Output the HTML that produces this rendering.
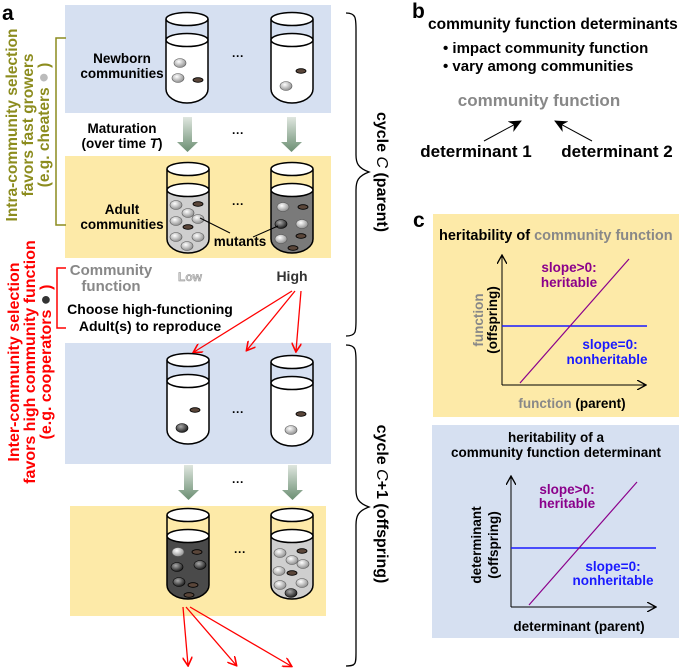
<!DOCTYPE html>
<html><head><meta charset="utf-8"><style>
html,body{margin:0;padding:0;background:#fff;}
svg{display:block;font-family:"Liberation Sans",Arial,sans-serif;font-weight:bold;}
</style></head><body>
<svg width="685" height="669" viewBox="0 0 685 669" xmlns="http://www.w3.org/2000/svg">
<defs>
<radialGradient id="wb" cx="0.4" cy="0.35" r="0.7"><stop offset="0" stop-color="#fff"/><stop offset="1" stop-color="#888"/></radialGradient>
<radialGradient id="bb" cx="0.4" cy="0.35" r="0.7"><stop offset="0" stop-color="#aaa"/><stop offset="1" stop-color="#111"/></radialGradient>
<linearGradient id="ga" x1="0" y1="0" x2="0" y2="1"><stop offset="0" stop-color="#dfe6df"/><stop offset="1" stop-color="#6b8e72"/></linearGradient>
<marker id="ar" markerWidth="10" markerHeight="10" refX="8" refY="5" orient="auto" markerUnits="userSpaceOnUse"><path d="M0,0 L9,5 L0,10" fill="none" stroke="red" stroke-width="1.6"/></marker>
<marker id="ak" markerWidth="10" markerHeight="10" refX="8" refY="5" orient="auto" markerUnits="userSpaceOnUse"><path d="M0,0 L9,5 L0,10" fill="none" stroke="#000" stroke-width="1.3"/></marker>
<marker id="ab" markerWidth="14" markerHeight="12" refX="12" refY="6" orient="auto" markerUnits="userSpaceOnUse"><path d="M0,0 L13,6 L0,12 L4,6 Z" fill="#000"/></marker>
<g id="tube"><path d="M0,0 L0,70 A21,14 0 0 0 42,70 L42,0" fill="none" stroke="#000" stroke-width="1.5"/><ellipse cx="21" cy="0" rx="21" ry="6.5" fill="#fff" stroke="#000" stroke-width="1.5"/></g>
<path id="liqW" d="M0,21 L0,70 A21,14 0 0 0 42,70 L42,21 Z" fill="#fff"/>
<path id="liqL" d="M0,21 L0,70 A21,14 0 0 0 42,70 L42,21 Z" fill="#cfcfcf"/>
<path id="liqD" d="M0,21 L0,70 A21,14 0 0 0 42,70 L42,21 Z" fill="#4a4a4a"/>
<path id="liqM" d="M0,21 L0,70 A21,14 0 0 0 42,70 L42,21 Z" fill="#7a7a7a"/>
<ellipse id="liqE" cx="21" cy="21" rx="21" ry="6.5" fill="#fff" stroke="#000" stroke-width="1.5"/>
<ellipse id="w" rx="6" ry="4.5" fill="url(#wb)" stroke="#555" stroke-width="0.6"/>
<ellipse id="k" rx="6" ry="4.5" fill="url(#bb)" stroke="#000" stroke-width="0.6"/>
<ellipse id="r" rx="5" ry="2.3" fill="#5a463a" stroke="#000" stroke-width="0.8"/>
</defs>

<rect x="65" y="5" width="266" height="108" fill="#d6e0f1"/>
<rect x="65" y="156" width="266" height="102" fill="#fdeaa8"/>
<rect x="65" y="343" width="266" height="121" fill="#d6e0f1"/>
<rect x="70" y="506" width="256" height="110" fill="#fdeaa8"/>

<text x="2" y="20" font-size="21">a</text>

<g transform="translate(166,19)"><use href="#liqW"/><use href="#tube"/><use href="#liqE"/>
<use href="#w" x="14" y="44"/><use href="#w" x="12" y="59"/><use href="#r" x="32" y="61"/></g>
<g transform="translate(271,19)"><use href="#liqW"/><use href="#tube"/><use href="#liqE"/>
<use href="#r" x="30" y="52"/><use href="#w" x="15" y="67"/></g>
<text x="122" y="63" font-size="13.5" text-anchor="middle">Newborn</text>
<text x="122" y="78" font-size="13.5" text-anchor="middle">communities</text>
<text x="238" y="60" font-size="12" text-anchor="middle">···</text>

<text x="122" y="133" font-size="13.5" text-anchor="middle">Maturation</text>
<text x="122" y="148" font-size="13.5" text-anchor="middle">(over time <tspan font-style="italic">T</tspan>)</text>
<text x="238" y="137" font-size="12" text-anchor="middle">···</text>
<path d="M183,117 h9 v25 h6 l-10.5,10 l-10.5,-10 h6 z" fill="url(#ga)"/>
<path d="M287,117 h9 v25 h6 l-10.5,10 l-10.5,-10 h6 z" fill="url(#ga)"/>

<g transform="translate(167,169)"><use href="#liqL"/><use href="#tube"/><use href="#liqE"/>
<use href="#w" x="9" y="36"/><use href="#r" x="31" y="35"/><use href="#w" x="21" y="44"/><use href="#w" x="31" y="50"/><use href="#w" x="9" y="52"/><use href="#r" x="21" y="58"/><use href="#w" x="9" y="68"/><use href="#w" x="31" y="68"/><use href="#w" x="20" y="77"/></g>
<g transform="translate(271,169)"><use href="#liqM"/><use href="#tube"/><use href="#liqE"/>
<use href="#w" x="12" y="38"/><use href="#r" x="32" y="38"/><use href="#k" x="10" y="55"/><use href="#w" x="31" y="55"/><use href="#w" x="10" y="70"/><use href="#r" x="30" y="67"/><use href="#r" x="22" y="79"/></g>
<text x="122" y="214" font-size="13.5" text-anchor="middle">Adult</text>
<text x="122" y="229" font-size="13.5" text-anchor="middle">communities</text>
<text x="238" y="208" font-size="12" text-anchor="middle">···</text>
<text x="240" y="246" font-size="13.5" text-anchor="middle">mutants</text>
<line x1="200" y1="218" x2="230" y2="233" stroke="#000" stroke-width="1"/>
<line x1="278" y1="226" x2="253" y2="237" stroke="#000" stroke-width="1"/>

<text x="111" y="275" font-size="15" fill="#888" text-anchor="middle">Community</text>
<text x="111" y="291" font-size="15" fill="#888" text-anchor="middle">function</text>
<text x="190" y="281" font-size="12" fill="#ccc" text-anchor="middle" stroke="#888" stroke-width="0.4">Low</text>
<text x="292" y="281" font-size="14" fill="#333" text-anchor="middle">High</text>
<text x="150" y="314" font-size="14" text-anchor="middle">Choose high-functioning</text>
<text x="150" y="331" font-size="14" text-anchor="middle">Adult(s) to reproduce</text>
<g stroke="red" stroke-width="1.3" fill="none">
<line x1="292" y1="291" x2="194" y2="352" marker-end="url(#ar)"/>
<line x1="295" y1="291" x2="247" y2="350" marker-end="url(#ar)"/>
<line x1="301" y1="291" x2="296" y2="351" marker-end="url(#ar)"/>
</g>

<g transform="translate(167,360)"><use href="#liqW"/><use href="#tube"/><use href="#liqE"/>
<use href="#r" x="28" y="50"/><use href="#k" x="15" y="68"/></g>
<g transform="translate(271,362)"><use href="#liqW"/><use href="#tube"/><use href="#liqE"/>
<use href="#r" x="30" y="52"/><use href="#w" x="20" y="68"/></g>
<text x="238" y="416" font-size="12" text-anchor="middle">···</text>
<text x="238" y="486" font-size="12" text-anchor="middle">···</text>
<path d="M184,465 h9 v25 h6 l-10.5,10 l-10.5,-10 h6 z" fill="url(#ga)"/>
<path d="M288,465 h9 v25 h6 l-10.5,10 l-10.5,-10 h6 z" fill="url(#ga)"/>

<g transform="translate(167,515)"><use href="#liqD"/><use href="#tube"/><use href="#liqE"/>
<use href="#w" x="11" y="37"/><use href="#r" x="30" y="37"/><use href="#k" x="10" y="52"/><use href="#k" x="33" y="50"/><use href="#k" x="12" y="67"/><use href="#r" x="26" y="70"/><use href="#r" x="22" y="80"/></g>
<g transform="translate(271,515)"><use href="#liqL"/><use href="#tube"/><use href="#liqE"/>
<use href="#w" x="9" y="38"/><use href="#r" x="31" y="36"/><use href="#w" x="21" y="45"/><use href="#w" x="32" y="49"/><use href="#w" x="8" y="56"/><use href="#r" x="21" y="58"/><use href="#w" x="9" y="70"/><use href="#w" x="31" y="68"/><use href="#k" x="20" y="78"/></g>
<text x="240" y="556" font-size="12" text-anchor="middle">···</text>
<g stroke="red" stroke-width="1.3" fill="none">
<line x1="183" y1="607" x2="188" y2="665" marker-end="url(#ar)"/>
<line x1="186" y1="607" x2="236" y2="665" marker-end="url(#ar)"/>
<line x1="190" y1="607" x2="291" y2="666" marker-end="url(#ar)"/>
</g>

<path d="M66,38 H56 V225 H66" fill="none" stroke="#8c8c1e" stroke-width="1.5"/>
<path d="M66,268 H57 V328 H66" fill="none" stroke="red" stroke-width="1.5"/>
<g transform="translate(28,125) rotate(-90)" fill="#8c8c1e" font-size="15.5" text-anchor="middle">
<text x="0" y="-11">Intra-community selection</text>
<text x="0" y="5">favors fast growers</text>
<text x="0" y="21">(e.g. cheaters <tspan fill="#bbb" font-size="18">●</tspan> )</text>
</g>
<g transform="translate(30,362) rotate(-90)" fill="red" font-size="16" text-anchor="middle">
<text x="0" y="-11">Inter-community selection</text>
<text x="0" y="5">favors high community function</text>
<text x="0" y="21">(e.g. cooperators <tspan fill="#333" font-size="18">●</tspan> )</text>
</g>

<path d="M346,13 C356,13 356,18 356,30 L356,155 C356,163 358,168 369,172 C358,176 356,181 356,190 L356,320 C356,332 356,336 346,336" fill="none" stroke="#000" stroke-width="1.3"/>
<path d="M346,345 C356,345 356,350 356,362 L356,490 C356,498 358,503 369,507 C358,511 356,516 356,525 L356,652 C356,664 356,666 346,666" fill="none" stroke="#000" stroke-width="1.3"/>
<g transform="translate(382,172) rotate(90)" font-size="16" text-anchor="middle"><text x="0" y="5">cycle <tspan font-style="italic" font-weight="normal">C</tspan> (parent)</text></g>
<g transform="translate(382,504) rotate(90)" font-size="16" text-anchor="middle"><text x="0" y="5">cycle <tspan font-style="italic" font-weight="normal">C</tspan>+1 (offspring)</text></g>

<text x="412" y="18" font-size="21">b</text>
<text x="428" y="29" font-size="15.5">community function determinants</text>
<text x="443" y="53" font-size="15">•  impact community function</text>
<text x="443" y="71" font-size="15">•  vary among communities</text>
<text x="539" y="106" font-size="17" fill="#888" text-anchor="middle">community function</text>
<line x1="484" y1="141" x2="521" y2="121" stroke="#000" stroke-width="1" marker-end="url(#ab)"/>
<line x1="592" y1="141" x2="555" y2="121" stroke="#000" stroke-width="1" marker-end="url(#ab)"/>
<text x="476" y="157" font-size="17" text-anchor="middle">determinant 1</text>
<text x="617" y="157" font-size="17" text-anchor="middle">determinant 2</text>

<text x="413" y="227" font-size="21">c</text>
<rect x="433" y="214" width="246" height="203" fill="#fdeaa8"/>
<text x="439" y="240" font-size="14.5">heritability of <tspan fill="#888">community function</tspan></text>
<line x1="502" y1="385" x2="502" y2="256" stroke="#000" stroke-width="1" marker-end="url(#ak)"/>
<line x1="502" y1="385" x2="645" y2="385" stroke="#000" stroke-width="1" marker-end="url(#ak)"/>
<line x1="502" y1="326" x2="647" y2="326" stroke="#1a1aff" stroke-width="1.6"/>
<line x1="520" y1="383" x2="629" y2="259" stroke="#8b008b" stroke-width="1.2"/>
<text x="569" y="272" font-size="13.5" fill="#8b008b" text-anchor="middle">slope&gt;0:</text>
<text x="569" y="287" font-size="13.5" fill="#8b008b" text-anchor="middle">heritable</text>
<text x="610" y="349" font-size="13.5" fill="#1a1aff" text-anchor="middle">slope=0:</text>
<text x="607" y="364" font-size="13.5" fill="#1a1aff" text-anchor="middle">nonheritable</text>
<g transform="translate(485,320) rotate(-90)" font-size="13.5" text-anchor="middle"><text x="0" y="-2" fill="#888">function</text><text x="0" y="12">(offspring)</text></g>
<text x="572" y="408" font-size="13.5" text-anchor="middle"><tspan fill="#888">function</tspan> (parent)</text>

<rect x="432" y="425" width="247" height="213" fill="#d6e0f1"/>
<text x="556" y="442" font-size="13.5" text-anchor="middle">heritability of a</text>
<text x="556" y="457" font-size="13.5" text-anchor="middle">community function determinant</text>
<line x1="511" y1="607" x2="511" y2="477" stroke="#000" stroke-width="1" marker-end="url(#ak)"/>
<line x1="511" y1="607" x2="655" y2="607" stroke="#000" stroke-width="1" marker-end="url(#ak)"/>
<line x1="511" y1="548" x2="656" y2="548" stroke="#1a1aff" stroke-width="1.6"/>
<line x1="529" y1="605" x2="637" y2="482" stroke="#8b008b" stroke-width="1.2"/>
<text x="567" y="494" font-size="13.5" fill="#8b008b" text-anchor="middle">slope&gt;0:</text>
<text x="567" y="508" font-size="13.5" fill="#8b008b" text-anchor="middle">heritable</text>
<text x="613" y="571" font-size="13.5" fill="#1a1aff" text-anchor="middle">slope=0:</text>
<text x="613" y="585" font-size="13.5" fill="#1a1aff" text-anchor="middle">nonheritable</text>
<g transform="translate(486,545) rotate(-90)" font-size="13.5" text-anchor="middle"><text x="0" y="-5">determinant</text><text x="0" y="12">(offspring)</text></g>
<text x="579" y="631" font-size="13.5" text-anchor="middle">determinant (parent)</text>
</svg>
</body></html>
